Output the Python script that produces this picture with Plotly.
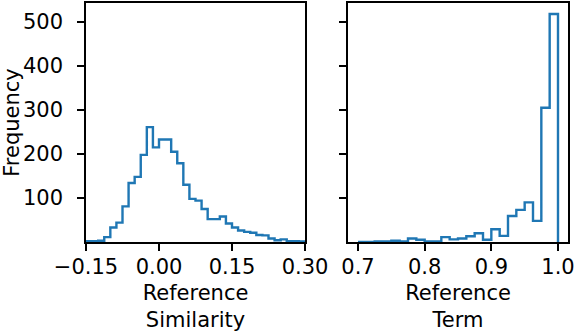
import numpy as np
import plotly.graph_objects as go
from plotly.subplots import make_subplots

# bin edges (0.0125 wide) and counts
sim_edges = np.linspace(-0.15, 0.30, 37)
sim_counts = [2, 2, 3, 11, 33, 44, 81, 134, 148, 198, 261, 215, 233, 233, 205, 179,
              130, 98, 94, 75, 52, 52, 58, 42, 33, 26, 23, 21, 16, 15, 8, 4, 6, 2, 2, 1]

term_edges = np.linspace(0.7, 1.0, 25)
term_counts = [0, 0, 1, 1, 3, 1, 8, 5, 1, 1, 11, 6, 8, 13, 20, 5, 29, 14,
               59, 73, 90, 48, 305, 518]

sim_ticks = [-0.15, 0.0, 0.15, 0.30]
sim_labels = ["\u22120.15", "0.00", "0.15", "0.30"]
term_ticks = [0.7, 0.8, 0.9, 1.0]
term_labels = ["0.7", "0.8", "0.9", "1.0"]
freq_ticks = [100, 200, 300, 400, 500]

BLUE = "#1f77b4"
FONT = dict(family="DejaVu Sans", size=21, color="black")


def step_xy(edges, counts):
    # outline of a step histogram, like histtype='step'
    xs = [edges[0]] + list(edges[:-1]) + [edges[-1], edges[-1]]
    ys = [0] + list(counts) + [counts[-1], 0]
    return xs, ys


fig = make_subplots(rows=1, cols=2, shared_yaxes=True)

x1, y1 = step_xy(sim_edges, sim_counts)
x2, y2 = step_xy(term_edges, term_counts)
fig.add_trace(go.Scatter(x=x1, y=y1, mode="lines", line=dict(color=BLUE, width=2.4, shape="hv"),
                         showlegend=False), row=1, col=1)
fig.add_trace(go.Scatter(x=x2, y=y2, mode="lines", line=dict(color=BLUE, width=2.4, shape="hv"),
                         showlegend=False), row=1, col=2)

axis_style = dict(showline=True, linecolor="black", linewidth=1.6, mirror=True,
                  ticks="outside", ticklen=7, tickwidth=1.6, tickcolor="black",
                  showgrid=False, zeroline=False, tickfont=FONT, automargin=False)

fig.update_xaxes(axis_style)
fig.update_yaxes(axis_style)

fig.update_xaxes(domain=[0, 219 / 482], range=[-0.15, 0.30], tickvals=sim_ticks, ticktext=sim_labels,
                 ticklabelstandoff=-2, ticklabeloverflow="allow",
                 title=dict(text="Reference<br>Similarity", font=FONT, standoff=14), row=1, col=1)
fig.update_xaxes(domain=[262 / 482, 1], range=[0.685, 1.015], tickvals=term_ticks, ticktext=term_labels,
                 ticklabelstandoff=-2, ticklabeloverflow="allow",
                 title=dict(text="Reference<br>Term", font=FONT, standoff=14), row=1, col=2)
fig.update_yaxes(range=[0, 543], tickvals=freq_ticks, ticklabelstandoff=10,
                 title=dict(text="Frequency", font=FONT), row=1, col=1)
fig.update_yaxes(range=[0, 543], tickvals=freq_ticks, showticklabels=False, row=1, col=2)

fig.update_layout(width=574, height=332, margin=dict(l=86, r=6, t=3, b=90),
                  plot_bgcolor="white", paper_bgcolor="white", font=FONT)

# the page body has an 8px margin by default, drop it so the chart sits at 0,0
fig.write_html("out.html", config={"displayModeBar": False},
               post_script="document.body.style.margin='0px';")
